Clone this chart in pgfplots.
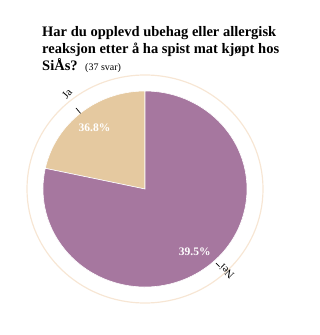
\documentclass[border=0pt]{standalone}
\usepackage{pgfplots}
\pgfplotsset{compat=1.18}
\usepackage{fontspec}
\setmainfont{Liberation Serif}
\definecolor{nei}{HTML}{A6779F}
\definecolor{ja}{HTML}{E5C9A0}
\definecolor{ring}{HTML}{F7E6D4}
% data: number of answers
\def\vJa{8}
\def\vNei{29}
\begin{document}
\begin{tikzpicture}
\useasboundingbox (0,0) rectangle (320pt,335pt);
\pgfmathsetmacro{\tot}{\vJa+\vNei}
\pgfmathsetmacro{\aA}{90}
\pgfmathsetmacro{\aB}{90+\vJa/\tot*360}
\pgfmathsetmacro{\aC}{450}
\begin{axis}[width=320pt,height=335pt,scale only axis,
  xmin=0,xmax=320,ymin=0,ymax=335,hide axis,clip=false,
  at={(0,0)},anchor=south west]
% outer ring
\draw[ring,line width=1.2pt] (axis cs:145,146) ellipse[x radius=118, y radius=114];
% slices
\fill[ja,draw=white,line width=0.6pt] (axis cs:145,146) -- ++(\aA:102pt and 98pt)
  arc[start angle=\aA, end angle=\aB, x radius=102pt, y radius=98pt] -- cycle;
\fill[nei,draw=white,line width=0.6pt] (axis cs:145,146) -- ++(\aB:102pt and 98pt)
  arc[start angle=\aB, end angle=\aC, x radius=102pt, y radius=98pt] -- cycle;
% value labels
\node[text=white,font=\bfseries\fontsize{11.5}{13}\selectfont] at (axis cs:94.5,207.5) {36.8\%};
\node[text=white,font=\bfseries\fontsize{11.5}{13}\selectfont] at (axis cs:194.7,83.5) {39.5\%};
% category labels
\draw[black,line width=0.7pt] (axis cs:76,227) -- (axis cs:80.5,221.7);
\draw[black,line width=0.7pt] (axis cs:216,72) -- (axis cs:219.5,68.3);
\node[rotate=50,font=\fontsize{11}{13}\selectfont] at (axis cs:67,241) {Ja};
\node[rotate=135,font=\fontsize{11}{13}\selectfont] at (axis cs:226.7,63.3) {Nei};
% title
\node[anchor=base west,inner sep=0pt,font=\bfseries\fontsize{14.5}{17}\selectfont] at (axis cs:42,298.3) {Har du opplevd ubehag eller allergisk};
\node[anchor=base west,inner sep=0pt,font=\bfseries\fontsize{14.5}{17}\selectfont] at (axis cs:42,281.5) {reaksjon etter å ha spist mat kjøpt hos};
\node[anchor=base west,inner sep=0pt,font=\bfseries\fontsize{14.5}{17}\selectfont] at (axis cs:42,264) {SiÅs?};
\node[anchor=base west,inner sep=0pt,font=\fontsize{10}{12}\selectfont] at (axis cs:85,264) {(37 svar)};
\end{axis}
\end{tikzpicture}
\end{document}
